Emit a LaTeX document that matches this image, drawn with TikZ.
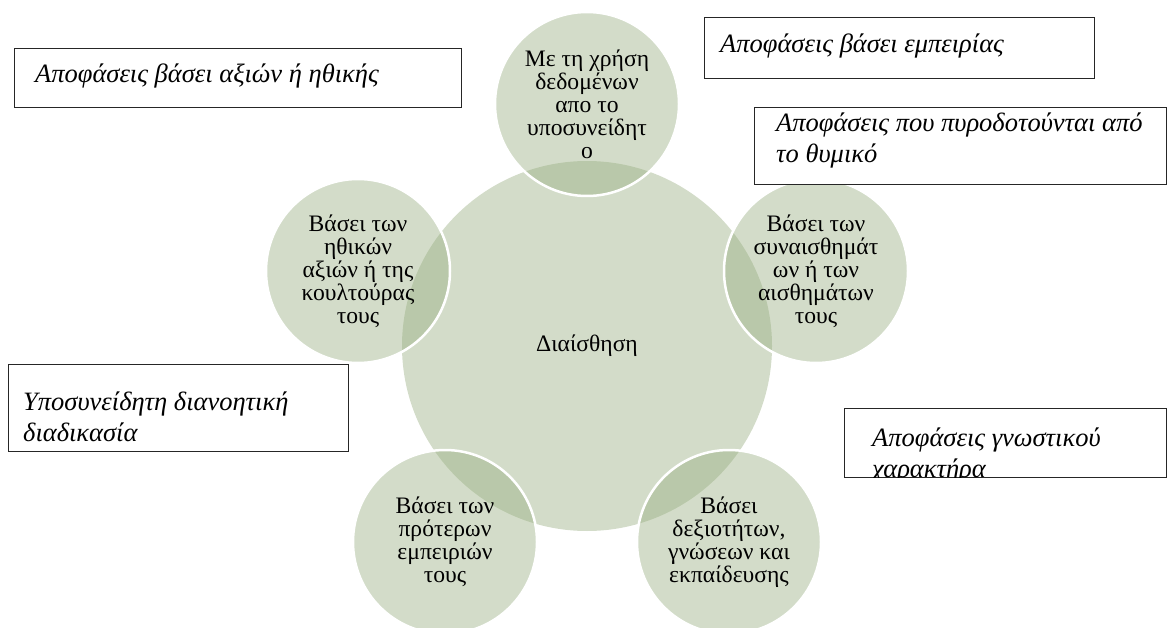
\documentclass[tikz,border=0pt]{standalone}
\usepackage{fontspec}
\setmainfont{Liberation Serif}
\usetikzlibrary{positioning}
\definecolor{sagegreen}{RGB}{150,172,126}
\tikzset{>=latex}
\tikzset{
  hub/.style={circle, minimum size=370pt, inner sep=0pt, fill=sagegreen, fill opacity=0.42, text opacity=1, font=\fontsize{23.6}{23}\selectfont},
  spoke/.style={circle, minimum size=184pt, inner sep=0pt, fill=sagegreen, fill opacity=0.42, draw=white, draw opacity=1, line width=2.5pt, text opacity=1, align=center, font=\fontsize{23.6}{23}\selectfont},
  decbox/.style={draw=black!85, fill=white, line width=1pt, anchor=north west, inner sep=0pt},
  dectext/.style={anchor=base west, align=left, inner sep=0pt, font=\itshape\fontsize{26.5}{31}\selectfont}
}

\begin{document}
\begin{tikzpicture}[x=1pt,y=-1pt]
            \useasboundingbox (0,0) rectangle (1167,628);

            \node[hub] (intuition) at (587,346) {Διαίσθηση};

            \node[spoke] (unconscious) at (587,104) {Με τη χρήση\\δεδομένων\\απο το\\υποσυνείδητ\\ο};
            \node[spoke] (feelings) at (816,271) {Βάσει των\\συναισθημάτ\\ων ή των\\αισθημάτων\\τους};
            \node[spoke] (skills) at (729,542) {Βάσει\\δεξιοτήτων,\\γνώσεων και\\εκπαίδευσης};
            \node[spoke] (experience) at (445,542) {Βάσει των\\πρότερων\\εμπειριών\\τους};
            \node[spoke] (values) at (358,271) {Βάσει των\\ηθικών\\αξιών ή της\\κουλτούρας\\τους};

            % text boxes (second line baseline is the anchor)
            \node[decbox, minimum width=447pt, minimum height=59pt] (valuesbox) at (14,48) {};
            \node[dectext] (valuestext) at (35,83) {Αποφάσεις βάσει αξιών ή ηθικής};

            \node[decbox, minimum width=390pt, minimum height=61pt] (experiencebox) at (704,17) {};
            \node[dectext] (experiencetext) at (720,53) {Αποφάσεις βάσει εμπειρίας};

            \node[decbox, minimum width=412pt, minimum height=77pt] (moodbox) at (754,107) {};
            \node[dectext] (moodtext) at (776,163) {Αποφάσεις που πυροδοτούνται από\\το θυμικό};

            \node[decbox, minimum width=322pt, minimum height=69pt] (cognitivebox) at (844,408) {};
            \begin{scope}
              \clip (844,408) rectangle (1166,477);
              \node[dectext] (cognitivetext) at (872,477) {Αποφάσεις γνωστικού\\χαρακτήρα};
            \end{scope}

            \node[decbox, minimum width=340pt, minimum height=87pt] (processbox) at (8,364) {};
            \node[dectext] (processtext) at (23,441) {Υποσυνείδητη διανοητική\\διαδικασία};
        \end{tikzpicture}
\end{document}
